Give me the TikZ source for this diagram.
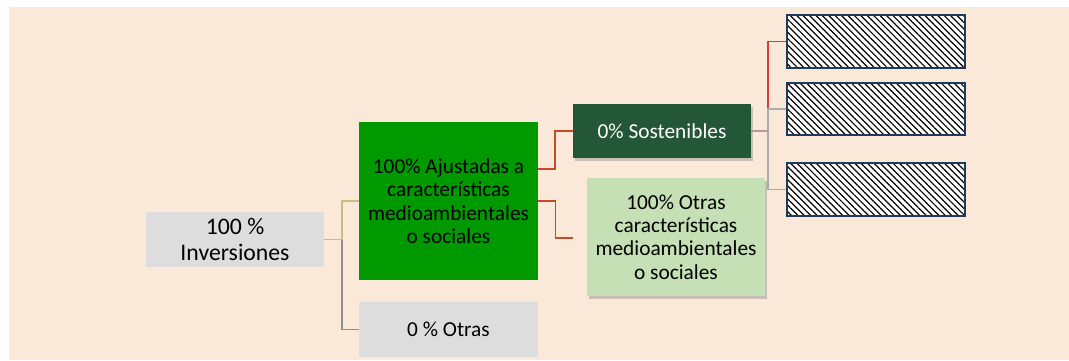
\documentclass[tikz,border=0pt]{standalone}
\usepackage{fontspec}
\setmainfont{Carlito}
\usetikzlibrary{patterns.meta,shadows}
\definecolor{fondo}{RGB}{250,232,216}
\definecolor{grisclaro}{RGB}{221,221,221}
\definecolor{verde}{RGB}{0,153,0}
\definecolor{verdeosc}{RGB}{36,87,56}
\definecolor{verdeclaro}{RGB}{197,224,180}
\definecolor{azul}{RGB}{31,59,90}
\definecolor{caqui}{RGB}{200,190,130}
\definecolor{gris}{RGB}{143,143,143}
\definecolor{grisl}{RGB}{171,171,171}
\definecolor{teja}{RGB}{196,74,42}
\definecolor{rojo}{RGB}{217,58,58}
\definecolor{rosa}{RGB}{184,152,152}
\begin{document}
\begin{tikzpicture}[x=0.75pt,y=-0.75pt,
  caja/.style={inner sep=0pt,align=center,font=\fontsize{16}{17.6}\selectfont,minimum width=133.5pt,minimum height=41.25pt},
  sombra/.style={drop shadow={shadow xshift=1.2pt,shadow yshift=-2pt,opacity=.45,fill=black!45}},
  rayada/.style={minimum width=134pt,minimum height=39.5pt,draw=azul,line width=1.5pt,preaction={fill=white},pattern color=black,pattern={Lines[angle=-45,distance=3.4pt,line width=0.9pt]}},
  linea/.style={line width=1.1pt}]
\useasboundingbox (0,0) rectangle (1069,360);
\fill [fondo] (9,7) rectangle (1069,360);
% cajas
\node [caja,fill=grisclaro,font=\fontsize{17.8}{20}\selectfont] (inv) at (235,239.5) {100 \%\\Inversiones};
\node [caja,fill=verde,minimum width=134.25pt,minimum height=118.5pt] (ajust) at (448.5,201) {100\% Ajustadas a\\características\\medioambientales\\o sociales};
\node [caja,fill=grisclaro,minimum width=134.25pt] (otras) at (448.5,329.5) {0 \% Otras};
\node [caja,sombra,fill=verdeosc,text=white,minimum height=40.5pt] (sost) at (662,131) {0\% Sostenibles};
\node [caja,sombra,fill=verdeclaro,minimum height=88.5pt] (otrascar) at (676,237) {100\% Otras\\características\\medioambientales\\o sociales};
\node [rayada] (r1) at (876,41.5) {};
\node [rayada] (r2) at (876,109) {};
\node [rayada] (r3) at (876,189.5) {};
% conectores
\coordinate (j1) at (342,239.5);
\coordinate (j2) at (555,169);
\coordinate (j3) at (768,131);
\coordinate (fin) at (573,238);
\draw [linea,caqui] (inv.east) -- (j1) |- (ajust.west);
\draw [linea,gris] (j1) |- (otras.west);
\draw [linea,teja] (ajust.east |- j2) -- (j2) |- (sost.west);
\draw [linea,teja] (ajust.east) -- ++(17,0) |- (fin);
\draw [linea,rojo] (j3) |- (r1.west);
\draw [linea,grisl] (j3) |- (r2.west);
\draw [linea,grisl] (j3) |- (r3.west);
\draw [linea,rosa] (sost.east) -- (j3);
\end{tikzpicture}
\end{document}
